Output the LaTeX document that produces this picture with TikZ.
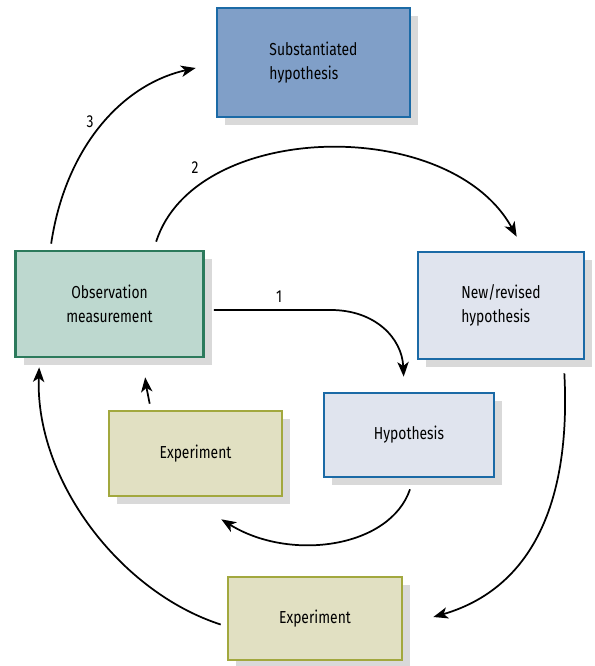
\documentclass[tikz,border=0pt]{standalone}
\usepackage{fontspec}
\setmainfont[FakeStretch=0.8]{Fira Sans}
\usetikzlibrary{shadows,calc,arrows.meta}
\definecolor{subfill}{HTML}{809FC8}
\definecolor{blueline}{HTML}{1B6AA6}
\definecolor{obsfill}{HTML}{BDD8CF}
\definecolor{obsline}{HTML}{2C7A5C}
\definecolor{expfill}{HTML}{E1E0C2}
\definecolor{expline}{HTML}{A2A83E}
\definecolor{hypfill}{HTML}{E0E4EE}
\definecolor{shadowgray}{HTML}{D9D9D9}
\begin{document}
\begin{tikzpicture}[x=0.75pt,y=-0.75pt,
  box/.style={rectangle, line width=2pt, inner sep=0pt, font=\fontsize{13}{18.5}\selectfont,
    general shadow={fill=shadowgray, shadow xshift=6pt, shadow yshift=-6pt}},
  subbox/.style={box, draw=blueline, fill=subfill},
  obsbox/.style={box, draw=obsline, fill=obsfill},
  expbox/.style={box, draw=expline, fill=expfill},
  hypbox/.style={box, draw=blueline, fill=hypfill},
  conn/.style={line width=1.3pt, -{Stealth[length=11pt,width=8.5pt,inset=3pt]}},
  lbl/.style={font=\fontsize{13}{15}\selectfont, inner sep=0pt}]
\useasboundingbox (0,0) rectangle (594,666);
\node[subbox, minimum width=193*0.75pt, minimum height=109*0.75pt, align=left] (sub) at (313.5,62.5) {Substantiated\\hypothesis};
\node[obsbox, minimum width=188*0.75pt, minimum height=106*0.75pt, align=center] (obs) at (109.5,304) {Observation\\measurement};
\node[expbox, minimum width=173*0.75pt, minimum height=85*0.75pt] (exp1) at (195.5,453.5) {Experiment};
\node[expbox, minimum width=174*0.75pt, minimum height=83*0.75pt] (exp2) at (315,618.5) {Experiment};
\node[hypbox, minimum width=166*0.75pt, minimum height=107*0.75pt, align=left] (new) at (501,305.5) {New/revised\\hypothesis};
\node[hypbox, minimum width=170*0.75pt, minimum height=84*0.75pt] (hyp) at (409,435) {Hypothesis};

\coordinate (a3s) at ($(obs.north west)+(37,-6)$);
\coordinate (a3e) at ($(sub.west)+(-20,5.5)$);
\draw[conn] (a3s) .. controls (65,150) and (120,85) .. (a3e);

\coordinate (a2s) at ($(obs.north west)+(142,-8)$);
\coordinate (a2e) at ($(new.north west)+(100,-14)$);
\draw[conn] (a2s) .. controls (195,120) and (450,115) .. (a2e);

\coordinate (a1s) at ($(obs.east)+(9,6)$);
\coordinate (a1m) at ($(obs.east)+(126,6)$);
\coordinate (a1e) at ($(hyp.north west)+(81,-15)$);
\draw[conn] (a1s) -- (a1m) .. controls (375,310) and (402,338) .. (a1e);

\coordinate (hs) at ($(hyp.south)+(1,11)$);
\coordinate (he) at ($(exp1.south east)+(-62,22)$);
\draw[conn] (hs) .. controls (390,548) and (290,562) .. (he);

\coordinate (es) at ($(exp1.north west)+(42,-6)$);
\coordinate (ee) at ($(obs.south west)+(131,19)$);
\draw[conn] (es) .. controls (148,395) and (146,385) .. (ee);

\coordinate (ns) at ($(new.south east)+(-21,13)$);
\coordinate (ne) at ($(exp2.east)+(30,-1.5)$);
\draw[conn] (ns) .. controls (572,520) and (520,592) .. (ne);

\coordinate (xs) at ($(exp2.west)+(-6,6)$);
\coordinate (xe) at ($(obs.south west)+(25,9)$);
\draw[conn] (xs) .. controls (120,592) and (35,480) .. (xe);

\node[lbl] (l1) at (279,297) {1};
\node[lbl] (l2) at (195,168) {2};
\node[lbl] (l3) at (90,122) {3};
\end{tikzpicture}
\end{document}
